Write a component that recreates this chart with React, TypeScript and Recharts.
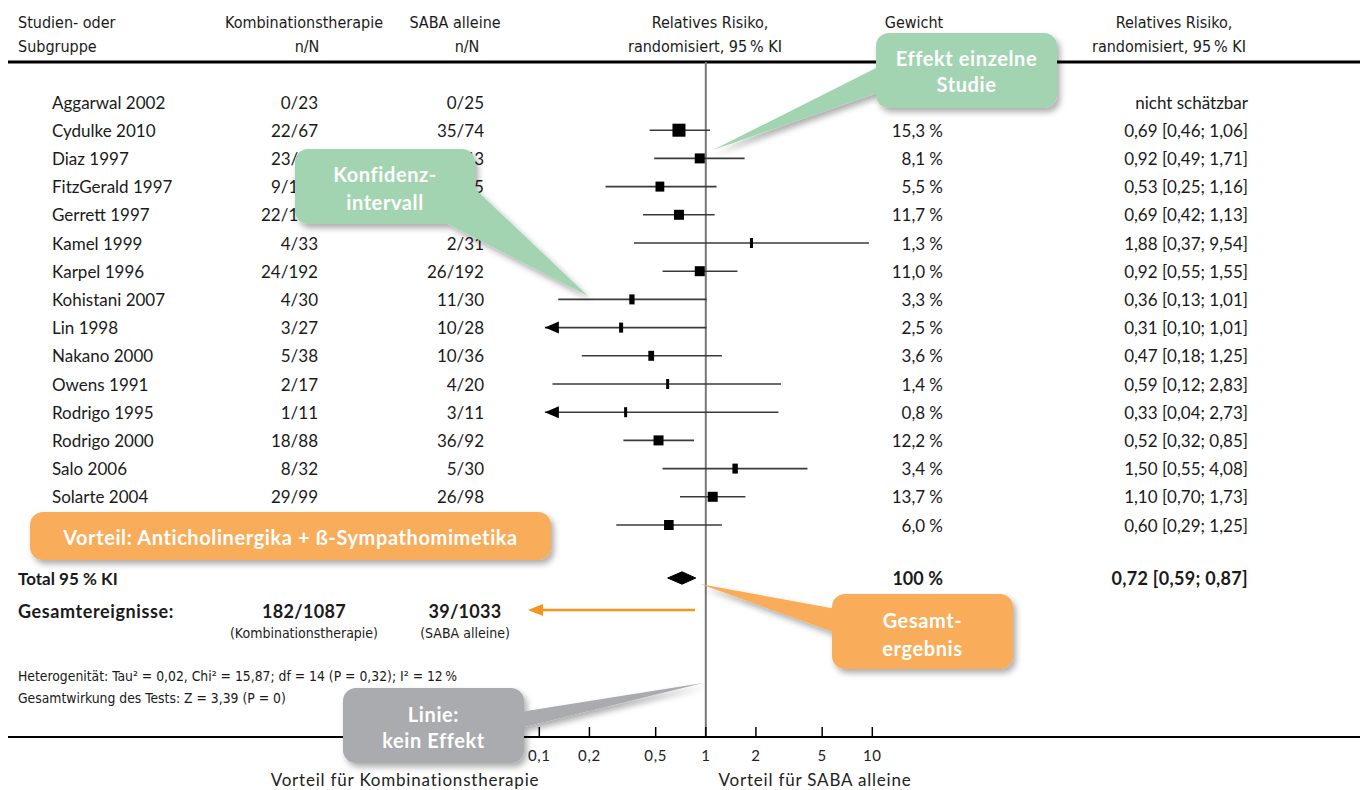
import { ScatterChart, Scatter, XAxis, YAxis, ErrorBar, ReferenceLine } from 'recharts'

// ---- data ----
// last study row is hidden behind the orange callout in the source, so its labels stay empty
const studies = [
  'Aggarwal 2002', 'Cydulke 2010', 'Diaz 1997', 'FitzGerald 1997', 'Gerrett 1997', 'Kamel 1999',
  'Karpel 1996', 'Kohistani 2007', 'Lin 1998', 'Nakano 2000', 'Owens 1991', 'Rodrigo 1995',
  'Rodrigo 2000', 'Salo 2006', 'Solarte 2004', '',
]
const comboEvents = [
  '0/23', '22/67', '23/44', '9/160', '22/113', '4/33', '24/192', '4/30', '3/27', '5/38', '2/17',
  '1/11', '18/88', '8/32', '29/99', '',
]
const sabaEvents = [
  '0/25', '35/74', '24/43', '17/155', '31/109', '2/31', '26/192', '11/30', '10/28', '10/36', '4/20',
  '3/11', '36/92', '5/30', '26/98', '',
]
const rr = [null, 0.69, 0.92, 0.53, 0.69, 1.88, 0.92, 0.36, 0.31, 0.47, 0.59, 0.33, 0.52, 1.5, 1.1, 0.6]
const ciLow = [null, 0.46, 0.49, 0.25, 0.42, 0.37, 0.55, 0.13, 0.1, 0.18, 0.12, 0.04, 0.32, 0.55, 0.7, 0.29]
const ciHigh = [null, 1.06, 1.71, 1.16, 1.13, 9.54, 1.55, 1.01, 1.01, 1.25, 2.83, 2.73, 0.85, 4.08, 1.73, 1.25]
const weights = [null, 15.3, 8.1, 5.5, 11.7, 1.3, 11.0, 3.3, 2.5, 3.6, 1.4, 0.8, 12.2, 3.4, 13.7, 6.0]
const totalRR = 0.72
const totalLow = 0.59
const totalHigh = 0.87
const totalEvents = ['182/1087', '39/1033']
const xTicks = [0.1, 0.2, 0.5, 1, 2, 5, 10]

// ---- layout ----
const W = 1368
const H = 790
const Y_AXIS_W = 1
const PLOT_LEFT = 8
const PLOT_RIGHT = 1360
const PLOT_TOP = 62
const AXIS_Y = 737
const XAXIS_H = 30
const PX_DECADE = 166.5
const X_ONE = 705.8
const xMin = 10 ** ((PLOT_LEFT - X_ONE) / PX_DECADE)
const xMax = 10 ** ((PLOT_RIGHT - X_ONE) / PX_DECADE)
const ROW_PITCH = 28.2
const FIRST_ROW_Y = 102
const yMin = -(FIRST_ROW_Y - PLOT_TOP) / ROW_PITCH
const yMax = yMin + (AXIS_Y - PLOT_TOP) / ROW_PITCH
const TOTAL_ROW = (578 - FIRST_ROW_Y) / ROW_PITCH
const SUM_ROW = (611 - FIRST_ROW_Y) / ROW_PITCH
const ARROW_MIN = 0.108 // lower display limit, CIs below get an arrow
const DIAMOND_HALF = 0.22

const BODY = 'Lato, "Open Sans", sans-serif'
const NARROW = '"Liberation Sans Narrow", "DejaVu Sans Condensed", sans-serif'

const NAME_X = 52
const COMBO_RIGHT = 318
const SABA_RIGHT = 484
const WEIGHT_RIGHT = 943
const CI_RIGHT = 1248

const num = (v: number) => v.toFixed(2).replace('.', ',')
const ciText = (r: number, l: number, h: number) => `${num(r)} [${num(l)}; ${num(h)}]`
const pct = (v: number) => `${v.toFixed(1).replace('.', ',')}\u202F%`

const points = studies
  .map((name, i) => ({ name, row: i, rr: rr[i], lo: ciLow[i], hi: ciHigh[i], w: weights[i] }))
  .filter((p) => p.rr != null)
  .map((p) => ({
    ...p,
    err: [(p.rr as number) - Math.max(p.lo as number, ARROW_MIN), (p.hi as number) - (p.rr as number)],
  }))
const arrows = points.filter((p) => (p.lo as number) < ARROW_MIN).map((p) => ({ row: p.row, rr: ARROW_MIN }))
const diamond = [
  { rr: totalLow, row: TOTAL_ROW },
  { rr: totalRR, row: TOTAL_ROW - DIAMOND_HALF },
  { rr: totalHigh, row: TOTAL_ROW },
  { rr: totalRR, row: TOTAL_ROW + DIAMOND_HALF },
  { rr: totalLow, row: TOTAL_ROW },
]
const yTicks = [...studies.map((_, i) => i), TOTAL_ROW, SUM_ROW]

function StudyMark(props: any) {
  const { cx, cy, payload } = props
  const w = payload.w
  const big = w >= 15
  const bw = big ? 13 : Math.min(10, Math.max(3, w * 1.6))
  const bh = big ? 13 : 10
  return <rect x={cx - bw / 2} y={cy - bh / 2} width={bw} height={bh} fill="#000" />
}

function ArrowMark(props: any) {
  const { cx, cy } = props
  return <polygon points={`${cx},${cy} ${cx + 14},${cy - 6} ${cx + 14},${cy + 6}`} fill="#000" />
}

function XTick(props: any) {
  const { x, y, payload } = props
  return (
    <g>
      <line x1={x} x2={x} y1={y - 10} y2={y} stroke="#000" strokeWidth={1.5} />
      <text x={x} y={y + 18} textAnchor="middle" dominantBaseline="central" fontFamily={BODY} fontSize={15} letterSpacing={0.6} fill="#222">
        {String(payload.value).replace('.', ',')}
      </text>
    </g>
  )
}

function RowTick(props: any) {
  const { y, payload } = props
  const v = payload.value
  const t = { fontFamily: BODY, fontSize: 17, fill: '#1a1a1a', dominantBaseline: 'central' as const }
  const b = { ...t, fontSize: 18, fontWeight: 700, letterSpacing: 0.3 }
  if (Math.abs(v - TOTAL_ROW) < 1e-6) {
    return (
      <g>
        <text x={18} y={y} {...t} fontWeight={700}>Total 95{'\u202F'}% KI</text>
        <text x={WEIGHT_RIGHT} y={y} {...b} textAnchor="end">100{'\u202F'}%</text>
        <text x={CI_RIGHT} y={y} {...b} textAnchor="end">{ciText(totalRR, totalLow, totalHigh)}</text>
      </g>
    )
  }
  if (Math.abs(v - SUM_ROW) < 1e-6) {
    return (
      <g>
        <text x={18} y={y} {...b} letterSpacing={0.6}>Gesamtereignisse:</text>
        <text x={304} y={y} {...b} textAnchor="middle">{totalEvents[0]}</text>
        <text x={465} y={y} {...b} textAnchor="middle">{totalEvents[1]}</text>
        <text x={304} y={y + 22} {...t} fontFamily={NARROW} fontSize={14} textAnchor="middle">(Kombinationstherapie)</text>
        <text x={465} y={y + 22} {...t} fontFamily={NARROW} fontSize={14} textAnchor="middle">(SABA alleine)</text>
      </g>
    )
  }
  const i = Math.round(v)
  const r = rr[i]
  return (
    <g>
      {studies[i] && <text x={NAME_X} y={y} {...t}>{studies[i]}</text>}
      {comboEvents[i] && <text x={COMBO_RIGHT} y={y} {...t} textAnchor="end">{comboEvents[i]}</text>}
      {sabaEvents[i] && <text x={SABA_RIGHT} y={y} {...t} textAnchor="end">{sabaEvents[i]}</text>}
      {r != null && <text x={WEIGHT_RIGHT} y={y} {...t} textAnchor="end">{pct(weights[i] as number)}</text>}
      <text x={CI_RIGHT} y={y} {...t} textAnchor="end">
        {r != null ? ciText(r, ciLow[i] as number, ciHigh[i] as number) : 'nicht schätzbar'}
      </text>
    </g>
  )
}

function Callout({ box, pointer, fill, lines, cy, lineGap = 26, size = 20 }: any) {
  const [x, y, w, h] = box
  return (
    <g>
      <g filter="url(#shadow)">
        <rect x={x} y={y} width={w} height={h} rx={13} fill={fill} />
        {pointer && <polygon points={pointer} fill={fill} />}
      </g>
      {lines.map((l: string, k: number) => (
        <text
          key={k}
          x={x + w / 2}
          y={cy + k * lineGap}
          textAnchor="middle"
          dominantBaseline="central"
          fontFamily={BODY}
          fontWeight={700}
          fontSize={size}
          letterSpacing={0.6}
          fill="#fff"
        >
          {l}
        </text>
      ))}
    </g>
  )
}

export default function App() {
  const head = { fontFamily: NARROW, fontSize: 16, fill: '#1a1a1a', dominantBaseline: 'central' as const }
  const foot = { ...head, fontSize: 13.8 }
  const caption = { fontFamily: BODY, fontSize: 17, letterSpacing: 0.8, fill: '#222', textAnchor: 'middle' as const, dominantBaseline: 'central' as const }
  const green = '#a3d4b2'
  const orange = '#f9ac5a'
  const grey = '#a9abae'
  return (
    <div style={{ position: 'absolute', left: 0, top: 0, width: W, height: H, background: '#fff' }}>
      <ScatterChart
        width={W}
        height={H}
        margin={{ top: PLOT_TOP, right: W - PLOT_RIGHT, bottom: H - AXIS_Y - XAXIS_H, left: PLOT_LEFT - Y_AXIS_W }}
      >
        <XAxis
          type="number"
          dataKey="rr"
          scale="log"
          domain={[xMin, xMax]}
          allowDataOverflow
          ticks={xTicks}
          interval={0}
          height={XAXIS_H}
          tickSize={0}
          tickMargin={0}
          tickLine={false}
          axisLine={{ stroke: '#000', strokeWidth: 2 }}
          tick={<XTick />}
        />
        <YAxis
          type="number"
          dataKey="row"
          domain={[yMin, yMax]}
          allowDataOverflow
          reversed
          ticks={yTicks}
          interval={0}
          width={Y_AXIS_W}
          axisLine={false}
          tickLine={false}
          tick={<RowTick />}
        />
        <ReferenceLine y={yMin} stroke="#000" strokeWidth={3} />
        <ReferenceLine x={1} stroke="#777" strokeWidth={2} />
        <Scatter data={points} shape={<StudyMark />} isAnimationActive={false}>
          <ErrorBar dataKey="err" direction="x" width={0} stroke="#3a3a3a" strokeWidth={1.6} isAnimationActive={false} />
        </Scatter>
        <Scatter data={arrows} shape={<ArrowMark />} isAnimationActive={false} />
        <Scatter
          data={diamond}
          shape={() => <g />}
          line={{ fill: '#000', stroke: '#000', strokeWidth: 1 }}
          lineType="joint"
          isAnimationActive={false}
        />
      </ScatterChart>

      <svg width={W} height={H} style={{ position: 'absolute', left: 0, top: 0, pointerEvents: 'none' }}>
        <defs>
          <filter id="shadow" x="-20%" y="-30%" width="150%" height="180%">
            <feDropShadow dx={3} dy={4} stdDeviation={3} floodColor="#000" floodOpacity={0.33} />
          </filter>
        </defs>

        {/* header */}
        <text x={18} y={22} {...head}>Studien- oder</text>
        <text x={18} y={46} {...head}>Subgruppe</text>
        <text x={304} y={22} {...head} textAnchor="middle">Kombinationstherapie</text>
        <text x={307} y={46} {...head} textAnchor="middle">n/N</text>
        <text x={455} y={22} {...head} textAnchor="middle">SABA alleine</text>
        <text x={467} y={46} {...head} textAnchor="middle">n/N</text>
        <text x={710} y={22} {...head} textAnchor="middle">Relatives Risiko,</text>
        <text x={705} y={46} {...head} textAnchor="middle">randomisiert, 95{'\u202F'}% KI</text>
        <text x={914} y={22} {...head} textAnchor="middle">Gewicht</text>
        <text x={1174} y={22} {...head} textAnchor="middle">Relatives Risiko,</text>
        <text x={1169} y={46} {...head} textAnchor="middle">randomisiert, 95{'\u202F'}% KI</text>

        {/* footnotes */}
        <text x={18} y={676} {...foot}>
          Heterogenität: Tau² = 0,02, Chi² = 15,87; df = 14 (P = 0,32); I² = 12{'\u202F'}%
        </text>
        <text x={18} y={698} {...foot}>Gesamtwirkung des Tests: Z = 3,39 (P = 0)</text>

        {/* axis captions */}
        <text x={405} y={779} {...caption}>Vorteil für Kombinationstherapie</text>
        <text x={815} y={779} {...caption}>Vorteil für SABA alleine</text>

        {/* orange arrow */}
        <line x1={695} y1={610} x2={540} y2={610} stroke="#f7941d" strokeWidth={2.5} />
        <polygon points="528,610 543,604 543,616" fill="#f7941d" />

        <Callout
          box={[876, 33, 181, 75]}
          pointer="880,66 880,92 713,150"
          fill={green}
          lines={['Effekt einzelne', 'Studie']}
          cy={58}
        />
        <Callout
          box={[295, 149, 180, 75]}
          pointer="440,220 472,186 588,296"
          fill={green}
          lines={['Konfidenz-', 'intervall']}
          cy={174}
          lineGap={28}
        />
        <Callout
          box={[30, 512, 521, 48]}
          fill={orange}
          lines={['Vorteil: Anticholinergika + ß-Sympathomimetika']}
          cy={537}
        />
        <Callout
          box={[832, 594, 181, 75]}
          pointer="836,609 836,633 700,584"
          fill={orange}
          lines={['Gesamt-', 'ergebnis']}
          cy={620}
          lineGap={28}
        />
        <Callout
          box={[343, 688, 181, 75]}
          pointer="520,712 520,728 703,683"
          fill={grey}
          lines={['Linie:', 'kein Effekt']}
          cy={714}
          lineGap={26}
        />
      </svg>
    </div>
  )
}
